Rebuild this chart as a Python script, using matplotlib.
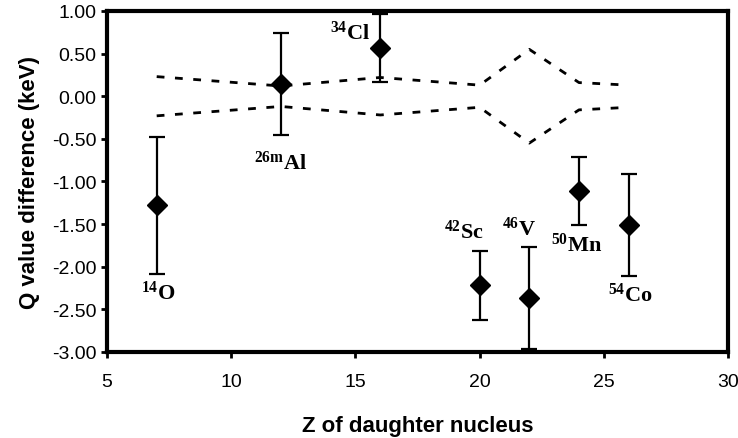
import numpy as np
import matplotlib.pyplot as plt

plt.rcParams['font.family'] = ['Liberation Sans', 'DejaVu Sans']
plt.rcParams['mathtext.fontset'] = 'custom'
plt.rcParams['mathtext.rm'] = 'Liberation Serif:bold'
plt.rcParams['mathtext.bf'] = 'Liberation Serif:bold'

# Datos
z_vals = [7, 12, 16, 20, 22, 24, 26]
dq_vals = [-1.28, 0.14, 0.57, -2.22, -2.37, -1.11, -1.51]
dq_err = [0.80, 0.60, 0.40, 0.40, 0.60, 0.40, 0.60]
banda = [0.23, 0.12, 0.22, 0.13, 0.55, 0.16, 0.13]
nucleos = [r'$\mathbf{^{14}O}$', r'$\mathbf{^{26m}Al}$', r'$\mathbf{^{34}Cl}$',
           r'$\mathbf{^{42}Sc}$', r'$\mathbf{^{46}V}$', r'$\mathbf{^{50}Mn}$',
           r'$\mathbf{^{54}Co}$']
etiqueta_pos = [(7.05, -2.30), (12.0, -0.77), (14.8, 0.75), (19.35, -1.58),
                (21.6, -1.55), (23.9, -1.74), (26.05, -2.32)]

fig = plt.figure(figsize=(7.38, 4.39), dpi=100)
ax = fig.add_axes([0.145, 0.196, 0.8415, 0.7767])

banda = np.array(banda)
ax.plot(z_vals, banda, color='black', lw=2, dashes=(2.8, 3.8))
ax.plot(z_vals, -banda, color='black', lw=2, dashes=(2.8, 3.8))

ax.errorbar(z_vals, dq_vals, yerr=dq_err, fmt='D', color='black',
            markersize=10, ecolor='black', elinewidth=1.6, capsize=6,
            capthick=1.6, zorder=3, clip_on=True)

for txt, (x, y) in zip(nucleos, etiqueta_pos):
    ax.text(x, y, txt, fontsize=16, ha='center', va='center')

ax.set_xlim(5, 30)
ax.set_ylim(-3, 1)
ax.set_xticks([5, 10, 15, 20, 25, 30])
ax.set_yticks(np.arange(-3, 1.01, 0.5))
ax.set_yticklabels([f'{v:.2f}' for v in np.arange(-3, 1.01, 0.5)])
ax.tick_params(direction='out', length=4, width=2, labelsize=14)
ax.tick_params(axis='x', pad=11)
for s in ax.spines.values():
    s.set_linewidth(3)

ax.set_xlabel('Z of daughter nucleus', fontsize=16, fontweight='bold', labelpad=18)
ax.set_ylabel('Q value difference (keV)', fontsize=16, fontweight='bold', labelpad=9)

fig.savefig('out.png', dpi=100)
